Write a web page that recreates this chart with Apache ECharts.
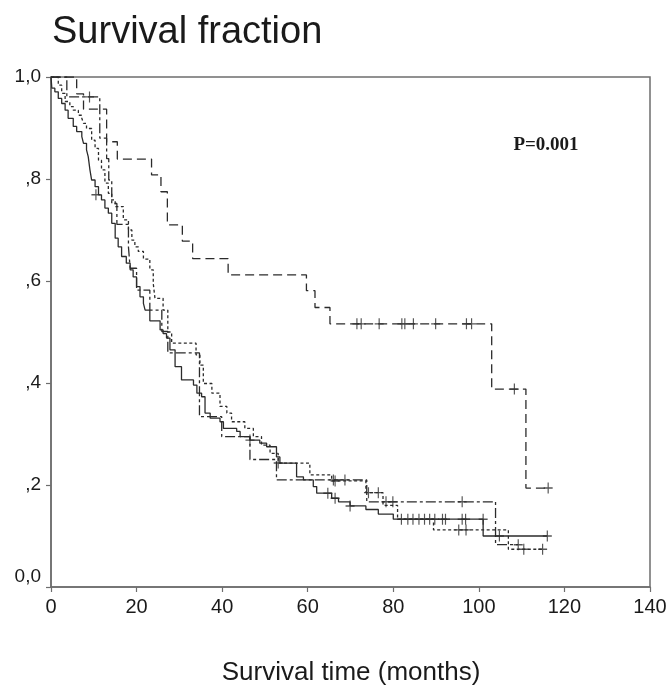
<!DOCTYPE html>
<html><head><meta charset="utf-8">
<script src="https://cdn.jsdelivr.net/npm/echarts@6/dist/echarts.min.js"></script>
<style>html,body{margin:0;padding:0;background:#fff}#c{width:670px;height:686px}</style>
</head><body><div id="c"></div>
<script>
// ---- data (time in months, survival fraction) ----
const xTickValues = [0, 20, 40, 60, 80, 100, 120, 140];
const yTickValues = [0, 0.2, 0.4, 0.6, 0.8, 1.0];
const yTickLabels = ['0,0', ',2', ',4', ',6', ',8', '1,0'];
const titleText = 'Survival fraction';
const xAxisTitle = 'Survival time (months)';
const pValueText = 'P=0.001';

// dashed group (high survival)
const dashedSteps = [[0,1],[6.0,0.967],[7.6,0.937],[13.0,0.873],[15.5,0.839],[23.5,0.808],[25.7,0.775],[27.2,0.710],[30.7,0.678],[33.1,0.644],[41.4,0.612],[59.7,0.581],[61.7,0.548],[65.2,0.516],[103.0,0.388],[111.0,0.194],[116.2,0.194]];
const dashedCensored = [[71.5,0.516],[72.5,0.516],[76.7,0.516],[82.0,0.516],[82.7,0.516],[84.7,0.516],[89.9,0.516],[97.1,0.516],[98.3,0.516],[108.3,0.388],[116.2,0.194]];

// solid group
const solidSteps = [[0,1],[0.2,0.978],[0.9,0.971],[1.7,0.958],[2.5,0.948],[3.3,0.935],[4.0,0.919],[5.2,0.903],[6.0,0.893],[7.2,0.883],[7.6,0.870],[8.3,0.857],[8.7,0.844],[9.1,0.818],[9.5,0.798],[10.3,0.785],[11.1,0.769],[11.8,0.759],[12.6,0.743],[13.4,0.733],[14.2,0.713],[15.0,0.684],[15.7,0.667],[16.5,0.648],[17.6,0.635],[18.5,0.622],[19.2,0.608],[20.0,0.589],[20.8,0.569],[21.6,0.556],[22.0,0.543],[23.1,0.522],[25.5,0.504],[26.2,0.497],[27.0,0.488],[27.8,0.465],[29.0,0.432],[30.5,0.406],[33.3,0.396],[34.1,0.380],[35.2,0.373],[36.0,0.341],[37.2,0.331],[39.5,0.324],[40.3,0.311],[43.4,0.305],[44.2,0.295],[46.5,0.288],[48.8,0.282],[50.4,0.275],[52.7,0.255],[53.5,0.243],[57.4,0.216],[59.0,0.210],[61.3,0.197],[62.1,0.184],[65.6,0.174],[67.2,0.167],[69.9,0.159],[73.6,0.152],[76.5,0.143],[80.0,0.133],[101.0,0.100],[116.0,0.100]];
const solidCensored = [[10.5,0.769],[46.5,0.288],[64.7,0.184],[66.4,0.174],[69.9,0.159],[81.9,0.133],[83.4,0.133],[84.6,0.133],[86.0,0.133],[87.3,0.133],[88.5,0.133],[89.7,0.133],[91.5,0.133],[92.2,0.133],[96.1,0.133],[96.9,0.133],[101.0,0.133],[104.8,0.100],[116.0,0.100]];

// dotted group
const dottedSteps = [[0,1],[1.7,0.984],[2.5,0.968],[3.3,0.952],[4.4,0.942],[5.2,0.935],[6.4,0.925],[7.2,0.919],[7.6,0.909],[8.3,0.899],[9.5,0.876],[10.3,0.860],[11.1,0.837],[11.8,0.818],[12.6,0.792],[13.4,0.772],[14.2,0.759],[15.0,0.746],[16.9,0.720],[18.1,0.700],[18.9,0.680],[19.6,0.667],[20.4,0.658],[21.6,0.643],[23.1,0.622],[23.9,0.595],[24.3,0.566],[26.2,0.543],[27.3,0.500],[28.2,0.478],[33.9,0.455],[34.8,0.435],[35.6,0.399],[37.6,0.380],[39.5,0.354],[41.1,0.341],[42.2,0.324],[45.3,0.311],[47.3,0.295],[49.2,0.278],[51.2,0.262],[53.1,0.243],[60.5,0.220],[65.6,0.208],[73.6,0.185],[77.6,0.160],[81.0,0.133],[89.4,0.112],[106.9,0.074],[114.9,0.074]];
const dottedCensored = [[53.1,0.243],[66.4,0.208],[74.2,0.185],[76.5,0.185],[95.3,0.112],[97.0,0.112],[110.5,0.074],[114.9,0.074]];

// dash-dot group
const dashDotSteps = [[0,1],[3.7,0.961],[11.4,0.880],[13.0,0.840],[13.5,0.798],[14.2,0.752],[15.4,0.711],[18.1,0.667],[18.5,0.625],[20.0,0.582],[23.1,0.543],[25.9,0.501],[27.3,0.459],[34.7,0.334],[39.9,0.295],[46.5,0.250],[52.7,0.210],[73.8,0.167],[103.9,0.083],[109.2,0.083]];
const dashDotCensored = [[9.0,0.961],[66.0,0.210],[68.7,0.210],[78.3,0.167],[79.9,0.167],[96.1,0.167],[109.2,0.083]];

// ---- chart ----
const lineColor = '#2b2b2b';
const plus = 'path://M-0.13,-1H0.13V-0.13H1V0.13H0.13V1H-0.13V0.13H-1V-0.13H-0.13Z';

function stepSeries(data, type) {
  return { type: 'line', step: 'end', data: data, showSymbol: false, silent: true,
    lineStyle: { color: lineColor, width: 1.3, type: type }, animation: false, z: 3 };
}
function censorSeries(data) {
  return { type: 'scatter', data: data, symbol: plus, symbolSize: [9, 11], silent: true,
    itemStyle: { color: lineColor }, animation: false, z: 4 };
}

const chart = echarts.init(document.getElementById('c'), null, { renderer: 'canvas' });
chart.setOption({
  backgroundColor: '#fff',
  animation: false,
  grid: { left: 51, right: 20, top: 77, bottom: 99, show: true, borderColor: '#6e6e6e', borderWidth: 1.5, backgroundColor: 'transparent' },
  xAxis: {
    type: 'value', min: xTickValues[0], max: xTickValues[xTickValues.length - 1], interval: 20,
    axisLine: { show: true, lineStyle: { color: '#6e6e6e', width: 1.5 } },
    axisTick: { show: true, inside: false, length: 5, lineStyle: { color: '#6e6e6e', width: 1.2 } },
    splitLine: { show: false },
    axisLabel: { color: '#1a1a1a', fontSize: 20, fontFamily: 'Liberation Sans', margin: 10 }
  },
  yAxis: {
    type: 'value', min: 0, max: 1, interval: 0.2,
    axisLine: { show: true, lineStyle: { color: '#6e6e6e', width: 1.5 } },
    axisTick: { show: true, inside: false, length: 5, lineStyle: { color: '#6e6e6e', width: 1.2 } },
    splitLine: { show: false },
    axisLabel: { color: '#1a1a1a', fontSize: 19, fontFamily: 'Liberation Sans', margin: 10,
      formatter: function (v) {
        const i = yTickValues.findIndex(t => Math.abs(t - v) < 1e-6);
        if (i < 0) return '';
        return i === 0 ? '{low|' + yTickLabels[i] + '}' : yTickLabels[i];
      },
      rich: { low: { fontSize: 19, fontFamily: 'Liberation Sans', color: '#1a1a1a', padding: [0, 0, 20, 0] } } }
  },
  graphic: [
    { type: 'text', left: 52, top: 14, style: { text: titleText, fontSize: 38, fontFamily: 'Liberation Sans', fill: '#1a1a1a' } },
    { type: 'text', x: 351, y: 673, style: { text: xAxisTitle, fontSize: 26, fontFamily: 'Liberation Sans', fill: '#1a1a1a', align: 'center', verticalAlign: 'middle' } },
    { type: 'text', x: 546, y: 145, style: { text: pValueText, fontSize: 19, fontWeight: 'bold', fontFamily: 'Liberation Serif', fill: '#1a1a1a', align: 'center', verticalAlign: 'middle' } }
  ],
  series: [
    stepSeries(dashedSteps, [9, 5]),
    stepSeries(solidSteps, 'solid'),
    stepSeries(dottedSteps, [3, 2.5]),
    stepSeries(dashDotSteps, [10, 3, 3, 3]),
    censorSeries(dashedCensored),
    censorSeries(solidCensored),
    censorSeries(dottedCensored),
    censorSeries(dashDotCensored)
  ]
});
</script>
</body></html>
